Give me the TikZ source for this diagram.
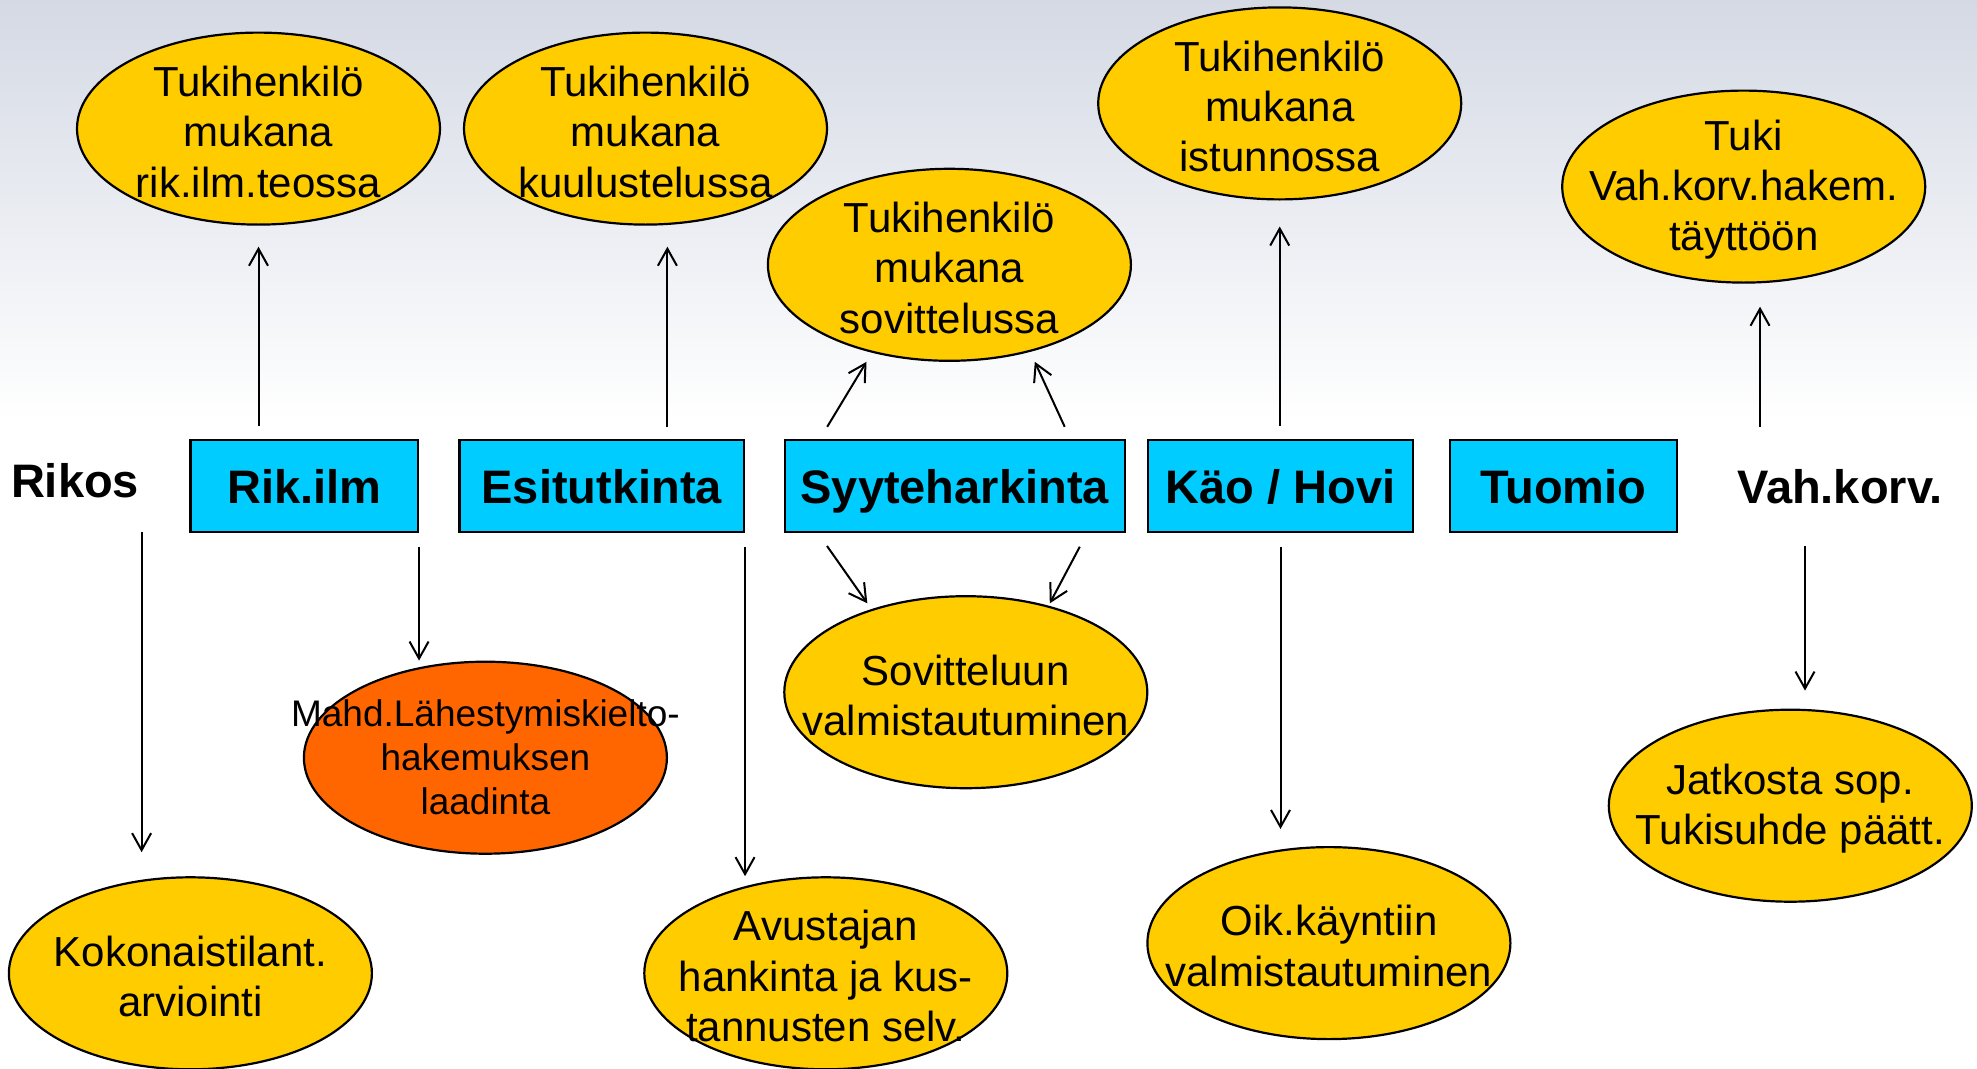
\documentclass[tikz,border=0pt]{standalone}
\usepackage{fontspec}
\setmainfont{Liberation Sans}
\usetikzlibrary{shapes.geometric,arrows.meta}
\definecolor{yel}{RGB}{255,204,0}
\definecolor{org}{RGB}{255,102,0}
\definecolor{cya}{RGB}{0,204,255}
\definecolor{bgtop}{RGB}{212,217,228}
\definecolor{bgmid}{RGB}{236,238,243}
\begin{document}
\begin{tikzpicture}[x=1pt,y=-1pt,
  yellip/.style={ellipse, draw=black, line width=2.2pt, fill=yel, minimum width=363pt, minimum height=192pt, inner sep=0pt},
  oellip/.style={yellip, fill=org},
  elab/.style={align=center, font=\fontsize{42}{50.4}\selectfont, inner sep=0pt, yshift=-3pt},
  olab/.style={align=center, font=\fontsize{37}{44}\selectfont, inner sep=0pt},
  stagebox/.style={draw=black, line width=2.2pt, fill=cya, minimum height=92pt, inner sep=0pt, text height=39pt, text depth=5pt, font=\fontsize{47}{56}\selectfont\bfseries},
  plainlab/.style={inner sep=0pt, text height=39pt, text depth=5pt, font=\fontsize{47}{56}\selectfont\bfseries},
  arr/.style={line width=2pt, -{Straight Barb[length=17pt,width=19pt]}}
]
\useasboundingbox (0,0) rectangle (1977,1068);
\fill[top color=bgtop, middle color=bgmid, bottom color=white] (0,0) rectangle (1977,420);
\fill[white] (0,420) rectangle (1977,1068);

% stage boxes
\node[stagebox, minimum width=227.5pt] (rikilm) at (304.2,486) {Rik.ilm};
\node[stagebox, minimum width=284.5pt] (esi) at (601.7,486) {Esitutkinta};
\node[stagebox, minimum width=339.8pt] (syy) at (954.7,486) {Syyteharkinta};
\node[stagebox, minimum width=265.2pt] (kao) at (1280.5,486) {Käo / Hovi};
\node[stagebox, minimum width=227.4pt] (tuo) at (1563.4,486) {Tuomio};
\node[plainlab] (rikos) at (75,480) {Rikos};
\node[plainlab] (vah) at (1840,486) {Vah.korv.};

% ellipses
\node[yellip, label={[elab]center:{Tukihenkilö\\mukana\\rik.ilm.teossa}}] (A) at (258.5,128.6) {};
\node[yellip, label={[elab]center:{Tukihenkilö\\mukana\\kuulustelussa}}] (B) at (645.5,128.6) {};
\node[yellip, label={[elab]center:{Tukihenkilö\\mukana\\sovittelussa}}] (C) at (949.4,264.8) {};
\node[yellip, label={[elab]center:{Tukihenkilö\\mukana\\istunnossa}}] (D) at (1279.7,103.4) {};
\node[yellip, label={[elab]center:{Tuki\\Vah.korv.hakem.\\täyttöön}}] (E) at (1743.7,186.6) {};
\node[yellip, label={[elab]center:{Sovitteluun\\valmistautuminen}}] (F) at (965.8,692.2) {};
\node[oellip, label={[olab]center:{Mahd.Lähestymiskielto-\\hakemuksen\\laadinta}}] (G) at (485.4,757.7) {};
\node[yellip, label={[elab]center:{Kokonaistilant.\\arviointi}}] (H) at (190.4,973.3) {};
\node[yellip, label={[elab]center:{Avustajan\\hankinta ja kus-\\tannusten selv.}}] (I) at (825.8,973.3) {};
\node[yellip, label={[elab]center:{Oik.käyntiin\\valmistautuminen}}] (J) at (1328.9,943.1) {};
\node[yellip, label={[elab]center:{Jatkosta sop.\\Tukisuhde päätt.}}] (K) at (1790.3,805.7) {};

% helper coordinates
\coordinate (xesi) at (667.4,440);
\coordinate (xvahup) at (1760,440);
\coordinate (xrikos) at (141.6,532);
\coordinate (xvahdn) at (1805,532);
\coordinate (sul) at (827.2,426.8);
\coordinate (sult) at (866.5,361.8);
\coordinate (sur) at (1064.7,426.8);
\coordinate (surt) at (1034.8,361.8);
\coordinate (sdl) at (827,546);
\coordinate (sdlt) at (867.3,603.3);
\coordinate (sdr) at (1079.8,546.7);
\coordinate (sdrt) at (1049.8,603.3);

% upward arrows
\draw[arr, shorten <=13pt, shorten >=21pt] (rikilm.north -| A.south) -- (A.south);
\draw[arr, shorten <=13pt, shorten >=21pt] (xesi) -- (xesi |- B.south);
\draw[arr] (sul) -- (sult);
\draw[arr] (sur) -- (surt);
\draw[arr, shorten <=13pt, shorten >=26pt] (kao.north -| D.south) -- (D.south);
\draw[arr, shorten <=13pt, shorten >=23pt] (xvahup) -- (xvahup |- E.south);

% downward arrows
\draw[arr, shorten >=24pt] (xrikos) -- (xrikos |- H.north);
\draw[arr, shorten <=14pt] (rikilm.south east) -- (rikilm.south east |- G.north);
\draw[arr, shorten <=14pt] (esi.south east) -- (esi.south east |- I.north);
\draw[arr] (sdl) -- (sdlt);
\draw[arr] (sdr) -- (sdrt);
\draw[arr, shorten <=14pt, shorten >=17pt] (kao.south) -- (kao.south |- J.north);
\draw[arr, shorten <=14pt, shorten >=18pt] (xvahdn) -- (xvahdn |- K.north);
\end{tikzpicture}
\end{document}
